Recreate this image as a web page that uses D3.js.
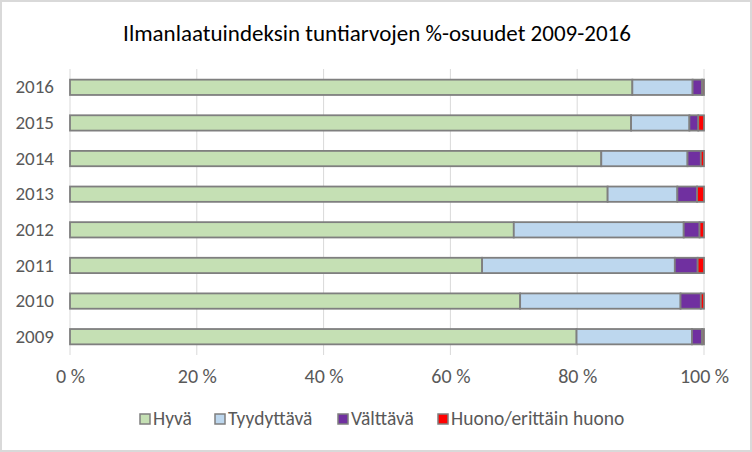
<!DOCTYPE html>
<html>
<head>
<meta charset="utf-8">
<script src="https://cdn.jsdelivr.net/npm/d3@7"></script>
<style>
  body { margin: 0; background: #fff; }
  text { font-family: Calibri, Carlito, Lato, sans-serif; }
</style>
</head>
<body>
<script>
var years = ['2016', '2015', '2014', '2013', '2012', '2011', '2010', '2009'];
var seriesNames = ['Hyvä', 'Tyydyttävä', 'Välttävä', 'Huono/erittäin huono'];
var hyva        = [88.7, 88.5, 83.8, 84.8, 70.0, 65.0, 71.0, 79.9];
var tyydyttava  = [ 9.5,  9.2, 13.6, 11.0, 26.8, 30.4, 25.3, 18.2];
var valttava    = [ 1.5,  1.4,  2.1,  3.1,  2.5,  3.6,  3.2,  1.6];
var huono       = [ 0.3,  0.9,  0.5,  1.1,  0.7,  1.0,  0.5,  0.3];
var xTicks = [0, 20, 40, 60, 80, 100];
var colors = ['#c5e0b4', '#bdd7ee', '#7030a0', '#ff0000'];

var width = 752, height = 452;

var svg = d3.select('body')
  .append('svg')
  .attr('width', width)
  .attr('height', height);

// chart frame
svg.append('rect')
  .attr('x', 1).attr('y', 1)
  .attr('width', width - 2).attr('height', height - 2)
  .attr('fill', '#fff')
  .attr('stroke', '#d9d9d9')
  .attr('stroke-width', 2);

svg.append('text')
  .attr('x', 377)
  .attr('y', 41)
  .attr('text-anchor', 'middle')
  .attr('font-size', '23px')
  .attr('fill', '#000')
  .text('Ilmanlaatuindeksin tuntiarvojen %-osuudet 2009-2016');

var x = d3.scaleLinear().domain([0, 100]).range([70, 704]);
var y = d3.scaleBand().domain(years).range([69.5, 354.5]).paddingInner(0.57).paddingOuter(0.285);

// gridlines
svg.append('g')
  .selectAll('line')
  .data(xTicks)
  .enter()
  .append('line')
  .attr('x1', function(d) { return x(d); })
  .attr('x2', function(d) { return x(d); })
  .attr('y1', 69)
  .attr('y2', 355)
  .attr('stroke', '#d9d9d9')
  .attr('stroke-width', 1);

// x axis labels
var xAxis = d3.axisBottom(x)
  .tickValues(xTicks)
  .tickSize(0)
  .tickPadding(0)
  .tickFormat(function(d) { return d + ' %'; });

var gx = svg.append('g')
  .attr('transform', 'translate(0,369)')
  .call(xAxis);
gx.select('.domain').remove();
gx.selectAll('text')
  .attr('font-size', '20px')
  .attr('fill', '#595959')
  .attr('font-family', null);

// y axis labels
var yAxis = d3.axisLeft(y).tickSize(0).tickPadding(0);
var gy = svg.append('g')
  .attr('transform', 'translate(54,0)')
  .call(yAxis);
gy.select('.domain').remove();
gy.selectAll('text')
  .attr('font-size', '19px')
  .attr('fill', '#595959')
  .attr('font-family', null);

// stacked data
var rows = years.map(function(yr, i) {
  return { year: yr, s0: hyva[i], s1: tyydyttava[i], s2: valttava[i], s3: huono[i] };
});
var stack = d3.stack().keys(['s0', 's1', 's2', 's3']);
var layers = stack(rows);

svg.append('g')
  .selectAll('g')
  .data(layers)
  .enter()
  .append('g')
  .attr('fill', function(d, i) { return colors[i]; })
  .selectAll('rect')
  .data(function(d) { return d; })
  .enter()
  .append('rect')
  .attr('x', function(d) { return x(d[0]); })
  .attr('y', function(d) { return y(d.data.year); })
  .attr('width', function(d) { return x(d[1]) - x(d[0]); })
  .attr('height', y.bandwidth())
  .attr('stroke', '#7f7f7f')
  .attr('stroke-width', 1.8);

// legend
var legendX = [140, 215, 338, 438];
var legend = svg.append('g')
  .selectAll('g')
  .data(seriesNames)
  .enter()
  .append('g')
  .attr('transform', function(d, i) { return 'translate(' + legendX[i] + ',414)'; });

legend.append('rect')
  .attr('width', 10)
  .attr('height', 10)
  .attr('fill', function(d, i) { return colors[i]; })
  .attr('stroke', '#7f7f7f')
  .attr('stroke-width', 1.5);

legend.append('text')
  .attr('x', 13)
  .attr('y', 11)
  .attr('font-size', '19.5px')
  .attr('fill', '#595959')
  .text(function(d) { return d; });
</script>
</body>
</html>
